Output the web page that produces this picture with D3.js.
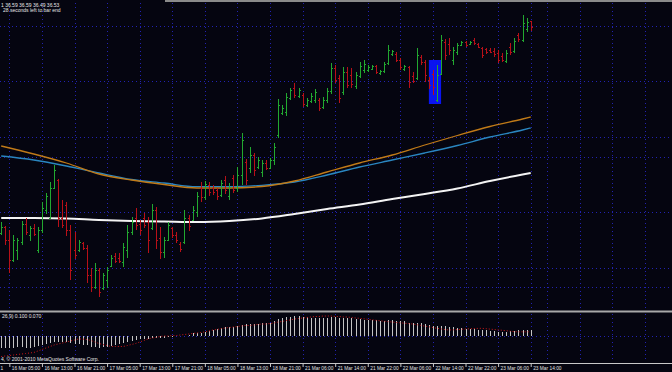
<!DOCTYPE html>
<html>
<head>
<meta charset="utf-8">
<script src="https://cdn.jsdelivr.net/npm/d3@7"></script>
<style>
  html, body { margin: 0; padding: 0; background: #050510; overflow: hidden; }
  svg { display: block; }
  text { font-family: "Liberation Sans", Arial, sans-serif; }
</style>
</head>
<body>
<svg id="chart" width="672" height="372"></svg>
<script>
// hourly bars, index 0 .. 130 (last bar = 23 Mar 14:00)
const openP = [34.47,34.53,34.40,34.20,34.30,34.38,34.56,34.45,34.52,34.30,
  34.50,34.70,34.62,34.92,35.00,34.62,34.75,34.50,34.30,34.30,
  34.37,34.32,34.05,33.93,34.10,33.92,34.00,34.14,34.24,34.22,
  34.18,34.30,34.48,34.62,34.56,34.62,34.58,34.52,34.70,34.42,
  34.28,34.40,34.52,34.45,34.36,34.38,34.62,34.60,34.68,34.92,
  34.83,34.95,34.92,34.90,34.85,35.00,34.84,35.02,34.92,35.05,
  35.18,35.12,35.25,35.13,35.08,35.17,35.12,35.20,35.45,35.67,
  35.68,35.82,35.92,35.84,35.85,35.75,35.79,35.80,35.80,35.73,
  35.80,35.89,36.12,36.02,35.88,36.08,36.05,35.94,36.04,36.10,
  36.10,36.11,36.14,36.07,36.09,36.17,36.26,36.26,36.20,36.11,
  36.13,36.04,36.02,36.23,36.18,36.00,36.06,35.80,36.06,36.38,
  36.36,36.20,36.28,36.35,36.38,36.36,36.40,36.36,36.32,36.31,
  36.30,36.29,36.27,36.24,36.19,36.33,36.29,36.45,36.40,36.51,36.59];
const highP = [34.58,34.54,34.50,34.45,34.42,34.59,34.62,34.54,34.56,34.53,
  34.78,34.87,34.98,35.15,35.01,34.80,34.78,34.55,34.48,34.40,
  34.38,34.35,34.12,34.17,34.12,34.07,34.13,34.25,34.27,34.27,
  34.37,34.55,34.63,34.72,34.60,34.67,34.63,34.76,34.73,34.53,
  34.43,34.58,34.53,34.48,34.38,34.70,34.65,34.74,34.88,34.98,
  34.99,34.98,34.95,34.92,35.00,35.04,34.97,35.05,35.13,35.47,
  35.21,35.33,35.27,35.23,35.20,35.20,35.22,35.37,35.81,35.75,
  35.87,35.92,35.97,35.92,35.87,35.82,35.87,35.91,35.82,35.83,
  35.92,36.17,36.15,36.05,36.13,36.13,36.12,36.08,36.18,36.20,
  36.15,36.15,36.15,36.10,36.18,36.35,36.30,36.28,36.22,36.15,
  36.14,36.08,36.32,36.25,36.20,36.03,36.10,36.15,36.45,36.41,
  36.42,36.33,36.37,36.39,36.39,36.39,36.42,36.37,36.33,36.32,
  36.32,36.32,36.30,36.27,36.30,36.37,36.42,36.47,36.65,36.62,36.59];
const lowP = [34.45,34.35,34.07,34.18,34.20,34.35,34.45,34.39,34.44,34.27,
  34.47,34.66,34.61,34.91,34.53,34.52,34.44,34.00,34.21,34.28,
  34.30,33.97,33.88,33.91,33.83,33.90,33.92,34.13,34.17,34.17,
  34.13,34.22,34.45,34.50,34.45,34.52,34.27,34.50,34.31,34.21,
  34.22,34.39,34.42,34.37,34.28,34.36,34.49,34.59,34.63,34.78,
  34.80,34.84,34.85,34.80,34.83,34.86,34.80,34.87,34.88,34.95,
  34.95,35.07,35.04,35.11,35.03,35.10,35.11,35.15,35.42,35.65,
  35.64,35.80,35.82,35.82,35.73,35.73,35.77,35.77,35.69,35.71,
  35.77,35.86,35.97,35.77,35.85,35.92,35.92,35.91,36.02,36.07,
  36.08,36.10,36.06,36.05,36.07,36.15,36.24,36.18,36.10,36.09,
  35.92,35.97,36.00,36.15,35.98,35.91,35.85,35.78,36.05,36.20,
  36.25,36.15,36.25,36.34,36.33,36.36,36.35,36.32,36.22,36.26,
  36.27,36.23,36.17,36.18,36.17,36.25,36.27,36.38,36.38,36.48,36.49];
const closeP = [34.53,34.40,34.20,34.40,34.40,34.56,34.48,34.52,34.46,34.50,
  34.72,34.84,34.92,35.10,34.62,34.55,34.50,34.10,34.25,34.38,
  34.32,34.05,33.93,34.10,33.88,34.05,34.10,34.22,34.19,34.19,
  34.33,34.48,34.58,34.55,34.50,34.55,34.40,34.70,34.40,34.28,
  34.40,34.55,34.45,34.40,34.31,34.62,34.54,34.70,34.84,34.83,
  34.96,34.88,34.88,34.84,34.97,34.90,34.93,34.90,35.05,35.40,
  35.00,35.25,35.10,35.20,35.17,35.12,35.20,35.33,35.75,35.72,
  35.83,35.90,35.85,35.90,35.76,35.80,35.84,35.88,35.72,35.80,
  35.89,36.12,36.00,35.82,36.08,35.95,35.96,36.05,36.14,36.16,
  36.13,36.14,36.08,36.09,36.16,36.30,36.29,36.20,36.13,36.14,
  35.98,35.99,36.25,36.18,36.05,35.95,35.93,36.05,36.40,36.25,
  36.30,36.30,36.35,36.38,36.35,36.38,36.37,36.33,36.25,36.28,
  36.28,36.26,36.20,36.20,36.27,36.28,36.39,36.41,36.57,36.58,36.53];

// moving averages, read every 8 bars
const maIndex  = [0,8,16,24,32,40,48,56,64,72,80,88,96,104,112,120,128,130];
const maOrange = [35.34,35.26,35.17,35.06,35.00,34.955,34.92,34.92,34.935,34.99,35.08,35.17,35.25,35.35,35.445,35.535,35.61,35.63];
const maBlue   = [35.24,35.20,35.14,35.07,35.005,34.97,34.933,34.933,34.947,34.98,35.05,35.13,35.20,35.27,35.345,35.43,35.50,35.52];
const maWhite  = [34.62,34.62,34.615,34.60,34.59,34.585,34.58,34.59,34.615,34.66,34.71,34.755,34.81,34.86,34.915,34.99,35.055,35.07];

// MACD(12,26,9) main (histogram) and signal, one per bar
const macdMain = [-0.200,-0.200,-0.192,-0.192,-0.183,-0.183,-0.192,-0.200,-0.183,-0.167,
  -0.150,-0.133,-0.117,-0.100,-0.100,-0.100,-0.108,-0.117,-0.125,-0.133,
  -0.142,-0.150,-0.175,-0.183,-0.192,-0.183,-0.175,-0.167,-0.150,-0.133,
  -0.117,-0.100,-0.083,-0.067,-0.058,-0.050,-0.042,-0.033,-0.025,-0.025,
  -0.025,-0.017,-0.017,-0.008,-0.008,0.008,0.025,0.042,0.050,0.058,
  0.067,0.083,0.100,0.117,0.133,0.150,0.150,0.158,0.167,0.183,
  0.192,0.200,0.200,0.208,0.217,0.217,0.225,0.242,0.283,0.300,
  0.317,0.325,0.333,0.333,0.325,0.317,0.308,0.308,0.300,0.300,
  0.308,0.317,0.317,0.308,0.300,0.292,0.292,0.283,0.283,0.275,
  0.275,0.267,0.267,0.258,0.258,0.267,0.267,0.258,0.250,0.242,
  0.225,0.217,0.225,0.217,0.200,0.183,0.175,0.167,0.175,0.167,
  0.158,0.150,0.133,0.133,0.125,0.125,0.117,0.108,0.100,0.092,
  0.083,0.083,0.075,0.075,0.075,0.083,0.083,0.092,0.100,0.100,0.100];
const macdSignal = [-0.342,-0.333,-0.325,-0.317,-0.308,-0.300,-0.292,-0.283,-0.275,-0.250,
  -0.225,-0.200,-0.175,-0.150,-0.133,-0.117,-0.100,-0.083,-0.067,-0.050,
  -0.050,-0.058,-0.075,-0.100,-0.125,-0.142,-0.158,-0.175,-0.175,-0.175,
  -0.175,-0.158,-0.142,-0.125,-0.100,-0.075,-0.050,-0.033,-0.025,-0.008,
  0.000,0.000,0.008,0.008,0.017,0.025,0.033,0.042,0.050,0.058,
  0.067,0.083,0.100,0.108,0.125,0.133,0.142,0.150,0.158,0.167,
  0.175,0.175,0.183,0.192,0.200,0.200,0.208,0.217,0.233,0.242,
  0.258,0.267,0.283,0.292,0.300,0.308,0.317,0.325,0.325,0.333,
  0.333,0.333,0.325,0.325,0.317,0.317,0.308,0.300,0.295,0.287,
  0.278,0.270,0.262,0.253,0.247,0.238,0.233,0.225,0.220,0.213,
  0.207,0.200,0.188,0.177,0.165,0.153,0.142,0.128,0.118,0.108,
  0.100,0.103,0.107,0.112,0.117,0.120,0.123,0.127,0.128,0.122,
  0.115,0.108,0.102,0.095,0.088,0.080,0.072,0.070,0.070,0.070,0.070];

// time axis (a tick before the first bar only shows its last digit "1")
const tickLabels = ["16 Mar 05:00","16 Mar 13:00","16 Mar 21:00","17 Mar 05:00",
  "17 Mar 13:00","17 Mar 21:00","18 Mar 05:00","18 Mar 13:00","18 Mar 21:00","21 Mar 06:00",
  "21 Mar 14:00","21 Mar 22:00","22 Mar 06:00","22 Mar 14:00","22 Mar 22:00","23 Mar 06:00","23 Mar 14:00"];
const firstTickBar = 2;
const extraGridBars = [-6, 134, 142, 150, 158];
const gridPrices = [36.54, 35.99, 35.43, 35.23, 34.68, 34.12, 33.93];

// blue rectangle object: bar range and price range
const boxBars = [105, 108];
const boxPrices = [36.20, 35.76];

const W = 672, H = 372;
const svg = d3.select("#chart");
svg.append("rect").attr("width", W).attr("height", H).attr("fill", "#050510");

const x = d3.scaleLinear().domain([0, 130]).range([1.2, 530.7]);
const y = d3.scaleLinear().domain([33.80, 36.80]).range([300, 0]);
const yM = d3.scaleLinear().domain([-0.4, 0.4]).range([360, 312]);

const tickBars = tickLabels.map((_, k) => firstTickBar + 8 * k);
const gridColor = "#2222b0";

// grid
const grid = svg.append("g").attr("stroke", gridColor).attr("stroke-dasharray", "1,3").attr("shape-rendering", "crispEdges");
tickBars.concat(extraGridBars).forEach(b => {
  const gx = Math.round(x(b)) + 0.5;
  grid.append("line").attr("x1", gx).attr("x2", gx).attr("y1", 3).attr("y2", 310);
  grid.append("line").attr("x1", gx).attr("x2", gx).attr("y1", 314).attr("y2", 362);
});
gridPrices.forEach(p => {
  const gy = Math.round(y(p)) + 0.5;
  grid.append("line").attr("x1", 0).attr("x2", W).attr("y1", gy).attr("y2", gy);
});
grid.append("line").attr("x1", 0).attr("x2", W)
  .attr("y1", Math.round(yM(0)) + 0.5).attr("y2", Math.round(yM(0)) + 0.5);

// rectangle object
svg.append("rect")
  .attr("x", x(boxBars[0])).attr("y", y(boxPrices[0]))
  .attr("width", x(boxBars[1]) - x(boxBars[0]))
  .attr("height", y(boxPrices[1]) - y(boxPrices[0]))
  .attr("fill", "#0a14f0");

// moving averages
const maLine = vals => d3.line()
  .x((d, i) => x(maIndex[i]))
  .y(d => y(d))
  .curve(d3.curveMonotoneX)(vals);
svg.append("path").attr("d", maLine(maWhite)).attr("fill", "none").attr("stroke", "#f4f4f4").attr("stroke-width", 2);
svg.append("path").attr("d", maLine(maBlue)).attr("fill", "none").attr("stroke", "#2a86c0").attr("stroke-width", 1.3);
svg.append("path").attr("d", maLine(maOrange)).attr("fill", "none").attr("stroke", "#c07a18").attr("stroke-width", 1.3);

// OHLC bars
const bars = svg.append("g").attr("shape-rendering", "crispEdges").attr("stroke-width", 1);
openP.forEach((o, i) => {
  const bx = Math.round(x(i)) + 0.5;
  const col = closeP[i] >= o ? "#22a830" : "#b81018";
  const g = bars.append("g").attr("stroke", col);
  g.append("line").attr("x1", bx).attr("x2", bx).attr("y1", y(highP[i])).attr("y2", y(lowP[i]));
  g.append("line").attr("x1", bx - 1.5).attr("x2", bx).attr("y1", Math.round(y(o)) + 0.5).attr("y2", Math.round(y(o)) + 0.5);
  g.append("line").attr("x1", bx).attr("x2", bx + 1.5).attr("y1", Math.round(y(closeP[i])) + 0.5).attr("y2", Math.round(y(closeP[i])) + 0.5);
});

// frame lines
svg.append("line").attr("x1", 165).attr("x2", W).attr("y1", 1).attr("y2", 1).attr("stroke", "#8a8a8a").attr("stroke-width", 2);
svg.append("line").attr("x1", 0).attr("x2", W).attr("y1", 311.5).attr("y2", 311.5).attr("stroke", "#a8a8a8").attr("stroke-width", 2);

// MACD histogram + signal
const hist = svg.append("g").attr("stroke", "#c4c4c4").attr("shape-rendering", "crispEdges");
macdMain.forEach((v, i) => {
  const bx = Math.round(x(i)) + 0.5;
  hist.append("line").attr("x1", bx).attr("x2", bx).attr("y1", yM(0)).attr("y2", yM(v));
});
svg.append("path")
  .attr("d", d3.line().x((d, i) => x(i)).y(d => yM(d))(macdSignal))
  .attr("fill", "none").attr("stroke", "#d01818").attr("stroke-width", 1).attr("stroke-dasharray", "1,2");

// time axis
const axisY = 363;
svg.append("line").attr("x1", 0).attr("x2", W).attr("y1", axisY + 0.5).attr("y2", axisY + 0.5).attr("stroke", "#c8c8c8");
const axis = svg.append("g").attr("transform", `translate(0,${axisY})`)
  .call(d3.axisBottom(x).tickValues(tickBars).tickFormat((d, k) => tickLabels[k]).tickSize(4));
axis.select(".domain").remove();
axis.selectAll(".tick line").attr("stroke", "#c8c8c8");
axis.selectAll(".tick text")
  .attr("text-anchor", "start").attr("x", 2).attr("y", 7).attr("dy", 0)
  .attr("fill", "#e0e0e0").style("font-size", "4.8px").style("font-family", "Liberation Sans, Arial, sans-serif");

// texts (as far as they are visible at the left edge)
const label = (t, xs, yb) => svg.append("text").attr("x", xs).attr("y", yb)
  .attr("text-anchor", "start").attr("fill", "#e6e6e6").style("font-size", "5px").text(t);
label("1", 0.5, axisY + 7).style("font-size", "4.8px");
label("1  36.59 36.59 36.49 36.53", 1, 6.5);
label("28 seconds left to bar end", 3, 11.5);
label("26,9) 0.100 0.070", 2, 318);
label("4, © 2001-2010 MetaQuotes Software Corp.", 1, 361);
</script>
</body>
</html>
